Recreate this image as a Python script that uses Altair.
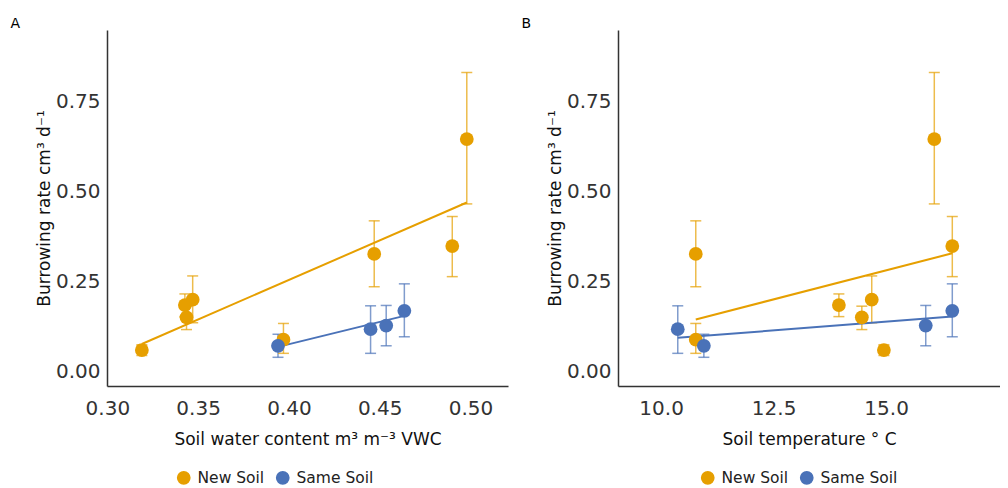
import altair as alt
import pandas as pd

# ---- data ----
groups = ["New Soil"] * 8 + ["Same Soil"] * 4
vwc = [0.319, 0.3427, 0.3436, 0.347, 0.397, 0.447, 0.490, 0.498,
       0.394, 0.445, 0.4536, 0.4636]
temp = [14.95, 13.95, 14.46, 14.68, 10.77, 10.77, 16.47, 16.07,
        10.95, 10.37, 15.88, 16.47]
rate = [0.060, 0.185, 0.151, 0.200, 0.089, 0.327, 0.349, 0.646,
        0.072, 0.118, 0.128, 0.169]
rate_lo = [0.045, 0.153, 0.117, 0.136, 0.051, 0.236, 0.264, 0.466,
           0.040, 0.051, 0.072, 0.097]
rate_hi = [0.075, 0.216, 0.182, 0.266, 0.134, 0.419, 0.431, 0.831,
           0.104, 0.183, 0.184, 0.244]

# fitted lines (end points)
fit_group = ["New Soil", "New Soil", "Same Soil", "Same Soil"]
fit_vwc_x = [0.319, 0.498, 0.394, 0.4636]
fit_vwc_y = [0.077, 0.470, 0.069, 0.155]
fit_temp_x = [10.77, 16.47, 10.37, 16.47]
fit_temp_y = [0.145, 0.329, 0.094, 0.153]

y_ticks = [0.0, 0.25, 0.5, 0.75]
vwc_ticks = [0.30, 0.35, 0.40, 0.45, 0.50]
temp_ticks = [10.0, 12.5, 15.0]

pts = pd.DataFrame({"group": groups, "vwc": vwc, "temp": temp,
                    "rate": rate, "lo": rate_lo, "hi": rate_hi})
fit_a = pd.DataFrame({"group": fit_group, "x": fit_vwc_x, "y": fit_vwc_y})
fit_b = pd.DataFrame({"group": fit_group, "x": fit_temp_x, "y": fit_temp_y})

FONT = "DejaVu Sans"
color_scale = alt.Scale(domain=["New Soil", "Same Soil"],
                        range=["#E69F00", "#4A72B8"])
y_title = "Burrowing rate cm³ d⁻¹"


def panel(xfield, fit_df, xdomain, xticks, xfmt, xtitle, letter, width, legx, tdx):
    xscale = alt.Scale(domain=xdomain, nice=False, zero=False)
    yscale = alt.Scale(domain=[-0.0397, 0.949], nice=False, zero=False)
    xaxis = alt.Axis(values=xticks, format=xfmt, title=xtitle, labelFlush=False)
    yaxis = alt.Axis(values=y_ticks, format=".2f", title=y_title, labelFlush=False)
    legend = alt.Legend(title=None, orient="none", direction="horizontal",
                        legendX=legx, legendY=440,
                        symbolType="circle", symbolSize=150, symbolOpacity=1,
                        labelFontSize=15.5, labelFont=FONT,
                        labelColor="#222222", columnPadding=8, labelOffset=6)
    color = alt.Color("group:N", scale=color_scale, legend=legend)
    base = alt.Chart(pts)
    bars = base.mark_rule(strokeWidth=1.5, opacity=0.7).encode(
        x=alt.X(f"{xfield}:Q", scale=xscale, axis=xaxis),
        y=alt.Y("lo:Q", scale=yscale, axis=yaxis),
        y2="hi:Q",
        color=color,
    )
    cap_lo = base.mark_tick(orient="horizontal", size=11, thickness=1.5, opacity=0.7).encode(
        x=alt.X(f"{xfield}:Q", scale=xscale),
        y=alt.Y("lo:Q", scale=yscale),
        color=color,
    )
    cap_hi = base.mark_tick(orient="horizontal", size=11, thickness=1.5, opacity=0.7).encode(
        x=alt.X(f"{xfield}:Q", scale=xscale),
        y=alt.Y("hi:Q", scale=yscale),
        color=color,
    )
    line = alt.Chart(fit_df).mark_line(strokeWidth=2).encode(
        x=alt.X("x:Q", scale=xscale),
        y=alt.Y("y:Q", scale=yscale),
        color=color,
        detail="group:N",
    )
    dots = base.mark_circle(size=190, opacity=1).encode(
        x=alt.X(f"{xfield}:Q", scale=xscale),
        y=alt.Y("rate:Q", scale=yscale),
        color=color,
    )
    return alt.layer(bars, cap_lo, cap_hi, line, dots).properties(
        width=width, height=356,
        title=alt.TitleParams(letter, anchor="start", frame="bounds",
                              fontSize=14, font=FONT, fontWeight="normal",
                              dx=tdx, offset=-1, color="#000000"),
    )


a = panel("vwc", fit_a, [0.2998, 0.5207], vwc_ticks, ".2f",
          "Soil water content m³ m⁻³ VWC", "A", 401, 69, -25)
b = panel("temp", fit_b, [9.042, 17.53], temp_ticks, ".1f",
          "Soil temperature ° C", "B", 382, 82, -25)

chart = alt.hconcat(a, b, spacing=13).resolve_legend(
    color="independent"
).properties(
    padding={"left": 2, "top": 9, "right": 0, "bottom": 0}
).configure_view(stroke=None).configure_axis(
    grid=False, ticks=False, domainColor="#333333", domainWidth=1.5,
    labelFont=FONT, labelFontSize=20, labelColor="#333333",
    titleFont=FONT, titleFontSize=17, titleFontWeight="normal",
    titleColor="#111111",
).configure_axisY(labelPadding=7, titlePadding=2).configure_axisX(
    labelPadding=12, titlePadding=13
)

chart.save("out.html", embed_options={"renderer": "svg", "actions": False})
